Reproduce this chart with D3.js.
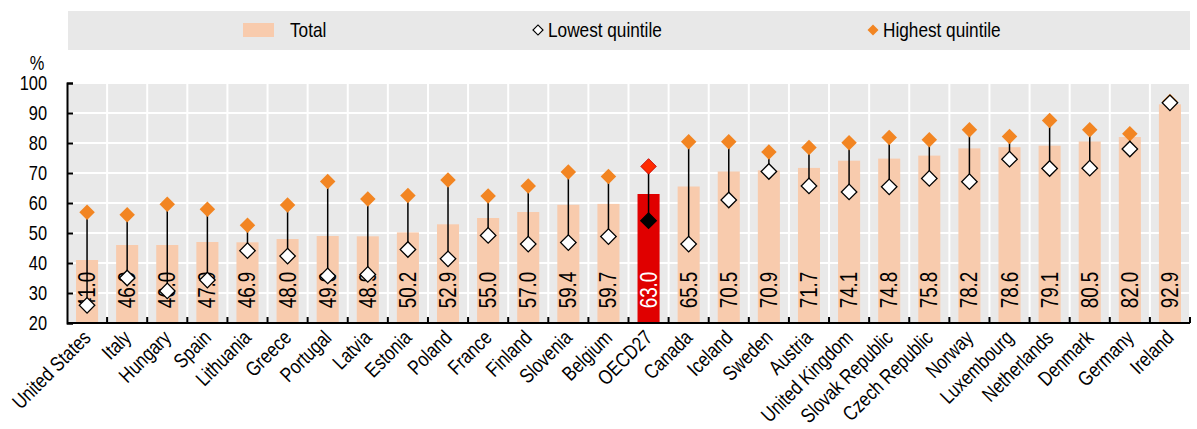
<!DOCTYPE html>
<html><head><meta charset="utf-8">
<script src="https://cdn.jsdelivr.net/npm/d3@7"></script>
<style>
body{margin:0;background:#fff;}
text{font-family:"Liberation Sans",Arial,sans-serif;fill:#000;}
</style></head>
<body>
<svg id="chart" width="1197" height="429"></svg>
<script>
const countries = ["United States","Italy","Hungary","Spain","Lithuania","Greece","Portugal","Latvia","Estonia","Poland","France","Finland","Slovenia","Belgium","OECD27","Canada","Iceland","Sweden","Austria","United Kingdom","Slovak Republic","Czech Republic","Norway","Luxembourg","Netherlands","Denmark","Germany","Ireland"];
const total = [41.0,46.0,46.0,47.0,46.9,48.0,49.0,48.9,50.2,52.9,55.0,57.0,59.4,59.7,63.0,65.5,70.5,70.9,71.7,74.1,74.8,75.8,78.2,78.6,79.1,80.5,82.0,92.9];
const lowest = [25.9,35.0,30.7,34.3,44.1,42.3,35.7,36.2,44.5,41.4,49.2,46.3,46.8,48.8,54.1,46.3,61.0,70.5,65.7,63.7,65.4,68.2,67.1,74.6,71.5,71.6,78.0,93.4];
const highest = [56.9,56.1,59.6,57.9,52.6,59.3,67.2,61.3,62.5,67.7,62.3,65.7,70.3,68.8,72.2,80.4,80.4,77.0,78.5,80.1,81.8,81.1,84.4,82.2,87.5,84.4,83.1,93.8];
const yTicks = [20,30,40,50,60,70,80,90,100];
const legendLabels = ["Total","Lowest quintile","Highest quintile"];
const highlight = "OECD27";

const NARROW = 0.82; // emulate a narrow face
const data = countries.map((c,i)=>({c, t:total[i], lo:lowest[i], hi:highest[i]}));
const svg = d3.select("#chart");
const L=67, R=1190, T=83, B=323;
const x = d3.scaleBand().domain(countries).range([L,R]).padding(0);
const y = d3.scaleLinear().domain([20,100]).range([B,T]);
const bw = x.bandwidth()*0.55;
const cx = c => x(c)+x.bandwidth()/2;

function ntext(g, tx, ty, rot, size, anchor, str){
  return g.append("text").attr("transform",`translate(${tx},${ty}) rotate(${rot}) scale(${NARROW},1)`)
    .attr("font-size",size).attr("text-anchor",anchor).text(str);
}

// legend
svg.append("rect").attr("x",68).attr("y",11).attr("width",R-68).attr("height",39).attr("fill","#e8e8e8");
svg.append("rect").attr("x",243).attr("y",23).attr("width",31).attr("height",14).attr("fill","#f8cbad");
ntext(svg,290,37,0,21,"start",legendLabels[0]);
svg.append("path").attr("d",d3.symbol().type(d3.symbolSquare).size(50)()).attr("transform","translate(538,30) rotate(45)").attr("fill","#fff").attr("stroke","#000").attr("stroke-width",1.2);
ntext(svg,548,37,0,21,"start",legendLabels[1]);
svg.append("path").attr("d",d3.symbol().type(d3.symbolSquare).size(60)()).attr("transform","translate(873,30) rotate(45)").attr("fill","#f28522");
ntext(svg,883,37,0,21,"start",legendLabels[2]);

// plot background
svg.append("rect").attr("x",L).attr("y",T).attr("width",R-L).attr("height",B-T).attr("fill","#e9e9e9");
svg.append("g").selectAll("line").data(yTicks.slice(1)).join("line")
  .attr("x1",L).attr("x2",R).attr("y1",d=>y(d)).attr("y2",d=>y(d)).attr("stroke","#fff").attr("stroke-width",2);
svg.append("g").selectAll("line").data(countries).join("line")
  .attr("x1",d=>x(d)+x.bandwidth()).attr("x2",d=>x(d)+x.bandwidth())
  .attr("y1",T).attr("y2",B).attr("stroke","#fff").attr("stroke-width",2);

// bars
svg.append("g").selectAll("rect").data(data).join("rect")
  .attr("x",d=>cx(d.c)-bw/2).attr("width",bw)
  .attr("y",d=>y(d.t)).attr("height",d=>B-y(d.t))
  .attr("fill",d=>d.c===highlight?"#e00000":"#f8cbad");

// value labels
svg.append("g").selectAll("text").data(data).join("text")
  .attr("transform",d=>`translate(${cx(d.c)+8},290) rotate(-90) scale(${NARROW},1)`)
  .attr("text-anchor","middle").attr("font-size",23)
  .style("fill",d=>d.c===highlight?"#fff":"#000")
  .text(d=>d.t.toFixed(1));

// connecting lines
svg.append("g").selectAll("line").data(data).join("line")
  .attr("x1",d=>cx(d.c)).attr("x2",d=>cx(d.c))
  .attr("y1",d=>y(d.lo)).attr("y2",d=>y(d.hi)).attr("stroke","#000").attr("stroke-width",1.5);

const sq = d3.symbol().type(d3.symbolSquare).size(120)();
svg.append("g").selectAll("path").data(data).join("path")
  .attr("d",sq).attr("transform",d=>`translate(${cx(d.c)},${y(d.hi)}) rotate(45)`)
  .attr("fill",d=>d.c===highlight?"#ff2a00":"#f28522")
  .attr("stroke",d=>d.c===highlight?"#c00000":"none").attr("stroke-width",0.8);
svg.append("g").selectAll("path").data(data).join("path")
  .attr("d",sq).attr("transform",d=>`translate(${cx(d.c)},${y(d.lo)}) rotate(45)`)
  .attr("fill",d=>d.c===highlight?"#000":"#fff")
  .attr("stroke","#000").attr("stroke-width",1.3);

// y axis
const yAxis = d3.axisLeft(y).tickValues(yTicks).tickSize(-6).tickFormat("");
const gy = svg.append("g").attr("transform",`translate(${L},0)`).call(yAxis);
gy.select(".domain").attr("stroke","#000").attr("stroke-width",2);
gy.selectAll(".tick line").attr("stroke","#000").attr("stroke-width",2);
const gyl = svg.append("g");
yTicks.forEach(v=>ntext(gyl,47,y(v)+7,0,20,"end",String(v)));

// x axis
const gx = svg.append("g").attr("transform",`translate(0,${B})`);
gx.append("line").attr("x1",L).attr("x2",R).attr("stroke","#000").attr("stroke-width",2);
gx.selectAll("line.tk").data(countries).join("line").attr("class","tk")
  .attr("x1",d=>x(d)+x.bandwidth()).attr("x2",d=>x(d)+x.bandwidth())
  .attr("y1",0).attr("y2",-6).attr("stroke","#000").attr("stroke-width",2);
countries.forEach(c=>ntext(gx,cx(c)+5,16,-45,20.5,"end",c));

ntext(svg,37,70,0,20,"middle","%");
</script>
</body></html>
